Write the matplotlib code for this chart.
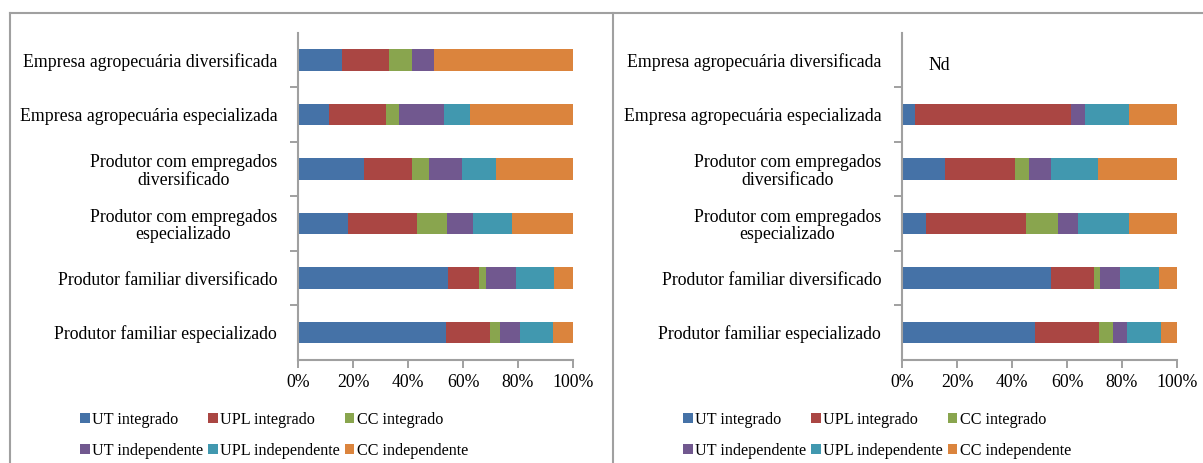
import numpy as np
import matplotlib
matplotlib.use("Agg")
import matplotlib.pyplot as plt
from matplotlib.lines import Line2D

plt.rcParams['font.family'] = ['Liberation Serif', 'DejaVu Serif']

categorias = ["Empresa agropecuária diversificada",
              "Empresa agropecuária especializada",
              "Produtor com empregados\ndiversificado",
              "Produtor com empregados\nespecializado",
              "Produtor familiar diversificado",
              "Produtor familiar especializado"]
series = ["UT integrado", "UPL integrado", "CC integrado",
          "UT independente", "UPL independente", "CC independente"]
cores = ["#4572A7", "#AA4643", "#89A54E", "#71588F", "#4198AF", "#DB843D"]

# percentuais, uma linha por categoria (mesma ordem de "categorias")
esquerda = np.array([
    [16.1, 17.1, 8.1, 8.3, 0.0, 50.4],
    [11.3, 20.8, 4.6, 16.5, 9.3, 37.5],
    [24.1, 17.2, 6.3, 11.9, 12.6, 27.9],
    [18.2, 25.0, 11.0, 9.4, 14.1, 22.3],
    [54.5, 11.3, 2.4, 11.0, 13.9, 6.9],
    [53.8, 16.1, 3.6, 7.2, 12.0, 7.3],
])
direita = np.array([
    [0.0, 0.0, 0.0, 0.0, 0.0, 0.0],   # Nd
    [4.6, 56.9, 0.0, 5.2, 15.8, 17.5],
    [15.7, 25.5, 4.9, 8.2, 17.0, 28.7],
    [8.8, 36.3, 11.5, 7.4, 18.5, 17.5],
    [54.2, 15.7, 2.1, 7.4, 14.2, 6.4],
    [48.2, 23.4, 5.2, 5.0, 12.5, 5.7],
])

W, H = 1203, 463
fig = plt.figure(figsize=(W / 100, H / 100), dpi=100)
fs = 12.8
fs_leg = 11.6

def painel(x0, dados, legx):
    ax = fig.add_axes([x0 / W, 1 - 359.8 / H, 275 / W, 327 / H])
    y = np.arange(len(categorias))
    base = np.zeros(len(categorias))
    handles = []
    for i, s in enumerate(series):
        b = ax.barh(y, dados[:, i] / 100, left=base, height=0.4,
                    color=cores[i], label=s)
        handles.append(b)
        base += dados[:, i] / 100
    ax.set_ylim(len(categorias) - 0.5, -0.5)
    ax.set_xlim(0, 1)
    ax.set_xticks(np.arange(0, 1.01, 0.2))
    ax.set_xticklabels([f"{int(v)}%" for v in np.arange(0, 101, 20)], fontsize=fs)
    ax.set_yticks(y)
    ax.set_yticklabels(categorias, fontsize=fs, multialignment='center',
                       linespacing=1.05)
    ax.set_yticks(np.arange(0.5, len(categorias) - 1, 1), minor=True)
    ax.tick_params(axis='y', which='major', length=0, pad=15)
    ax.tick_params(axis='y', which='minor', length=6, color='#909090', width=1.2)
    ax.tick_params(axis='x', length=6, color='#909090', width=1.2, pad=4)
    for sp in ['top', 'right']:
        ax.spines[sp].set_visible(False)
    for sp in ['left', 'bottom']:
        ax.spines[sp].set_color('#a0a0a0')
        ax.spines[sp].set_linewidth(1.5)
    ordem = [0, 3, 1, 4, 2, 5]
    fig.legend([handles[k] for k in ordem], [series[k] for k in ordem],
               ncol=3, frameon=False, fontsize=fs_leg,
               loc='upper left', bbox_to_anchor=(legx / W, 1 - 404 / H),
               handlelength=0.6, handleheight=0.6, handletextpad=0.15,
               columnspacing=0.3, labelspacing=0.9, borderpad=0)
    return ax

ax1 = painel(298, esquerda, 72)
ax2 = painel(902, direita, 675)
ax2.text(0.098, 0.1, "Nd", fontsize=fs, va='center', ha='left')

# molduras
cor_borda = '#a0a0a0'
fig.add_artist(Line2D([10 / W, 1], [1 - 13 / H] * 2, color=cor_borda, lw=1.5))
fig.add_artist(Line2D([10 / W] * 2, [0, 1 - 13 / H], color=cor_borda, lw=1.5))
fig.add_artist(Line2D([613 / W] * 2, [0, 1 - 13 / H], color=cor_borda, lw=1.5))

fig.savefig("out.png", dpi=100)
